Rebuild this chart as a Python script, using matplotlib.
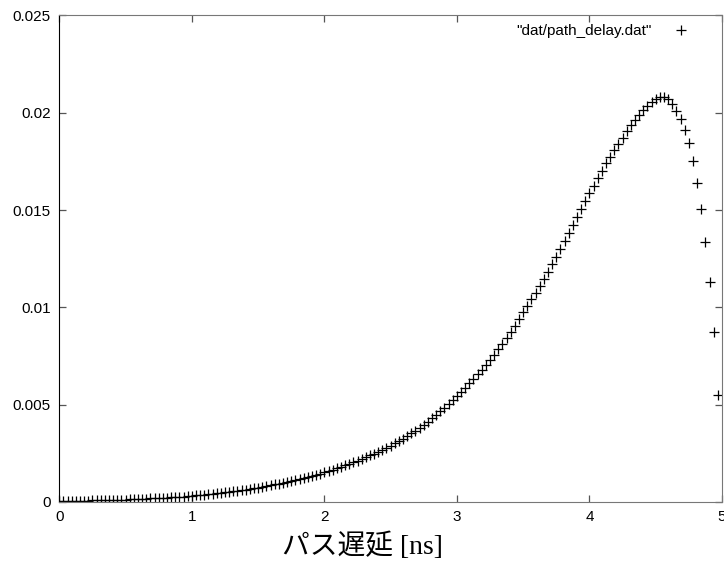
import numpy as np
import matplotlib
matplotlib.use('Agg')
import matplotlib.pyplot as plt

# path delay histogram, bin step 1/32 ns
step = 0.03125
density = [
    0.00005, 0.000054, 0.000058, 0.000062, 0.000066, 0.00007, 0.000073, 0.000076,
    0.00008, 0.000085, 0.00009, 0.000095, 0.0001, 0.000105, 0.00011, 0.000115,
    0.00012, 0.00013, 0.00014, 0.00015, 0.00016, 0.00017, 0.00018, 0.00019,
    0.0002, 0.00021, 0.00023, 0.00024, 0.00025, 0.00027, 0.00028, 0.0003,
    0.00032, 0.00034, 0.00036, 0.00038, 0.0004, 0.00042, 0.00044, 0.00047,
    0.0005, 0.00053, 0.00055, 0.00058, 0.00061, 0.00064, 0.00067, 0.0007,
    0.00074, 0.00078, 0.00082, 0.00086, 0.0009, 0.00094, 0.00098, 0.00102,
    0.00107, 0.00112, 0.00117, 0.00122, 0.00128, 0.00133, 0.00139, 0.00145,
    0.00152, 0.00159, 0.00166, 0.00173, 0.0018, 0.00188, 0.00196, 0.00204,
    0.00212, 0.00221, 0.0023, 0.00239, 0.00249, 0.00258, 0.00268, 0.00279,
    0.0029, 0.00302, 0.00314, 0.00326, 0.00339, 0.00352, 0.00366, 0.0038,
    0.00395, 0.00412, 0.00429, 0.00447, 0.00465, 0.00484, 0.00504, 0.00524,
    0.00545, 0.00566, 0.00587, 0.00609, 0.00631, 0.00655, 0.00679, 0.00704,
    0.0073, 0.00757, 0.00785, 0.00814, 0.00843, 0.00873, 0.00905, 0.00939,
    0.00975, 0.01008, 0.01042, 0.01076, 0.01111, 0.01147, 0.01184, 0.01222,
    0.0126, 0.013, 0.0134, 0.0138, 0.01421, 0.01462, 0.01503, 0.01544,
    0.01585, 0.01625, 0.01664, 0.01702, 0.01739, 0.01774, 0.01808, 0.0184,
    0.01872, 0.01905, 0.01935, 0.01963, 0.0199, 0.02014, 0.02036, 0.02056,
    0.02072, 0.0208, 0.0208, 0.02069, 0.02044, 0.0201, 0.01966, 0.01913,
    0.01843, 0.01752, 0.01637, 0.01504, 0.01334, 0.01132, 0.00875, 0.0055,
]
delay = np.arange(len(density)) * step

xticks = [0, 1, 2, 3, 4, 5]
yticks = [0, 0.005, 0.01, 0.015, 0.02, 0.025]
ytick_labels = ['0', '0.005', '0.01', '0.015', '0.02', '0.025']

plt.rcParams['font.family'] = ['Liberation Sans', 'DejaVu Sans']

fig = plt.figure(figsize=(7.24, 5.68), dpi=100)
ax = fig.add_axes([0.0819, 0.1162, 0.9153, 0.8568])

ax.plot(delay, density, linestyle='none', marker='+', color='black',
        markersize=7, markeredgewidth=0.9, label='"dat/path_delay.dat"')

ax.set_xlim(0, 5)
ax.set_ylim(0, 0.025)
ax.set_xticks(xticks)
ax.set_xticklabels([str(t) for t in xticks])
ax.set_yticks(yticks)
ax.set_yticklabels(ytick_labels)
ax.tick_params(direction='in', top=True, right=True, length=5, width=0.9,
               labelsize=11, colors='#555555', labelcolor='black')
ax.tick_params(axis='y', pad=6)
ax.tick_params(axis='x', pad=6)

for side in ['top', 'right', 'bottom']:
    ax.spines[side].set_color('#777777')
ax.spines['left'].set_color('black')

ax.set_xlabel('パス遅延 [ns]', family=['Liberation Serif', 'Noto Sans CJK JP'],
              fontsize=20)
ax.xaxis.set_label_coords(0.458, -0.062, transform=ax.transAxes)
ax.xaxis.label.set_va('top')

ax.legend(loc='upper right', frameon=False, markerfirst=False, fontsize=11,
          handlelength=2.3, borderaxespad=0, bbox_to_anchor=(0.974, 0.995))

fig.savefig('out.png', dpi=100)
